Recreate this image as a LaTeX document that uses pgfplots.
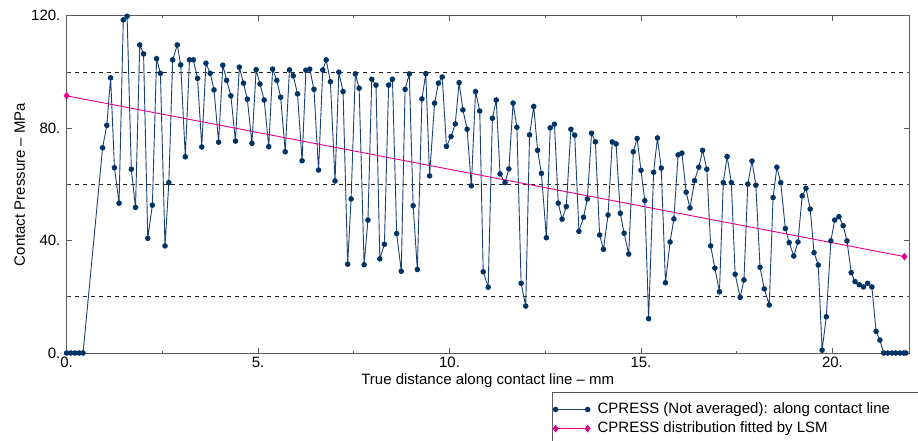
\documentclass[border=0pt]{standalone}
\usepackage{pgfplots}
\pgfplotsset{compat=1.18}
\usepackage{fontspec}
\setmainfont{Liberation Sans}
\definecolor{navy}{RGB}{0,51,102}
\definecolor{navyline}{RGB}{25,65,115}
\definecolor{lsm}{RGB}{228,0,140}
\definecolor{frame}{RGB}{90,90,90}
\begin{document}
\fontsize{15bp}{18bp}\selectfont
\begin{tikzpicture}[font=\fontsize{15bp}{18bp}\selectfont]
\begin{axis}[
  scale only axis,
  width=842.4bp, height=337.3bp,
  xmin=0, xmax=22, ymin=0, ymax=120,
  clip=false,
  axis line style={frame, line width=0.9bp},
  every tick/.style={frame, line width=0.7bp},
  tick align=inside,
  major tick length=5bp, minor tick length=2.5bp,
  xtick={0,5,10,15,20}, xticklabels={0.,5.,10.,15.,20.},
  minor xtick={2.5,7.5,12.5,17.5},
  ytick={0,40,80,120}, yticklabels={0.,40.,80.,120.},
  minor ytick={20,60,100},
  yminorgrids=true,
  minor grid style={black!85, dashed, dash pattern=on 4bp off 4bp, line width=0.7bp},
  tick label style={font=\fontsize{15bp}{18bp}\selectfont},
  label style={font=\fontsize{15bp}{18bp}\selectfont},
  xticklabel style={yshift=1.5bp},
  yticklabel style={xshift=-1bp},
  xlabel={True distance along contact line -- mm},
  ylabel={Contact Pressure -- MPa},
  xlabel style={yshift=4bp},
  ylabel style={yshift=-4bp},
  legend style={at={(0.576,-0.1156)}, anchor=north west, draw=frame, line width=0.9bp,
    font=\fontsize{15bp}{18bp}\selectfont, inner xsep=1bp, inner ysep=9bp,
    nodes={inner sep=1.5bp}, row sep=3bp, legend cell align=left},
  legend image code/.code={\draw[#1] plot coordinates {(0bp,0bp) (32bp,0bp)}; \path (40bp,0bp);},
]
\addplot[navyline, line width=0.9bp, mark=*, mark size=2.3bp, mark options={fill=navy, draw=navy}] coordinates {
(0,0) (0.11,0) (0.22,0) (0.33,0) (0.43,0)
(0.94,73.0) (1.05,81.0) (1.15,97.9) (1.25,65.9) (1.37,53.3) (1.48,118.5) (1.58,119.8) (1.69,65.4) (1.80,51.8) (1.91,109.6) (2.01,106.4) (2.12,40.8) (2.24,52.6) (2.35,104.7) (2.45,99.5) (2.57,38.1) (2.67,60.6) (2.77,104.3) (2.89,109.6) (2.98,102.5) (3.10,69.8) (3.21,104.3) (3.31,104.3) (3.42,97.7) (3.53,73.3) (3.64,103.1) (3.75,99.5) (3.85,93.6) (3.97,75.0) (4.08,102.4) (4.18,97.0) (4.29,91.5) (4.41,75.4) (4.51,101.7) (4.62,96.0) (4.72,90.3) (4.84,74.6) (4.95,100.8) (5.05,95.7) (5.16,90.0) (5.28,73.4) (5.38,101.0) (5.49,97.0) (5.59,91.0) (5.71,71.6) (5.82,100.7) (5.92,98.6) (6.03,92.2) (6.15,68.4) (6.25,100.6) (6.35,101.0) (6.46,93.8) (6.58,65.1) (6.69,100.7) (6.78,104.3) (6.89,96.5) (7.01,61.2) (7.11,99.9) (7.22,93.0) (7.34,31.6) (7.43,54.8) (7.54,99.3) (7.64,94.2) (7.77,31.4) (7.87,47.3) (7.97,97.4) (8.08,95.3) (8.18,33.5) (8.30,38.7) (8.41,95.3) (8.51,97.4) (8.62,42.5) (8.74,29.1) (8.84,93.8) (8.95,99.3) (9.05,52.4) (9.16,29.7) (9.28,90.4) (9.38,99.4) (9.48,63.0) (9.61,88.9) (9.71,96.0) (9.81,98.2) (9.92,73.5) (10.04,77.0) (10.15,81.5) (10.25,96.2) (10.35,86.5) (10.46,79.6) (10.57,59.5) (10.68,93.0) (10.79,86.1) (10.88,28.9) (11.01,23.4) (11.12,83.5) (11.22,90.0) (11.32,63.7) (11.45,60.6) (11.55,65.5) (11.66,88.9) (11.76,80.3) (11.87,24.8) (11.99,16.7) (12.09,77.6) (12.20,87.7) (12.30,72.1) (12.40,63.9) (12.53,41.0) (12.63,80.1) (12.74,81.4) (12.84,53.3) (12.94,47.6) (13.05,52.1) (13.17,79.6) (13.27,77.5) (13.38,43.3) (13.50,48.3) (13.60,54.8) (13.71,78.2) (13.81,75.1) (13.92,42.0) (14.02,36.9) (14.14,49.1) (14.25,75.1) (14.35,74.4) (14.46,49.7) (14.56,42.6) (14.68,35.2) (14.80,71.6) (14.90,76.3) (15.00,65.0) (15.10,54.2) (15.20,12.2) (15.33,64.3) (15.43,76.5) (15.53,65.8) (15.64,25.0) (15.76,39.5) (15.86,47.7) (15.97,70.5) (16.07,71.1) (16.18,57.2) (16.28,51.6) (16.40,61.3) (16.51,66.1) (16.61,72.1) (16.72,65.4) (16.82,38.1) (16.93,30.2) (17.05,21.8) (17.15,60.6) (17.25,69.9) (17.36,60.6) (17.46,28.0) (17.59,19.8) (17.69,26.0) (17.79,60.1) (17.90,68.3) (18.00,59.7) (18.11,30.5) (18.22,22.8) (18.35,17.1) (18.45,55.3) (18.55,66.1) (18.65,60.6) (18.77,44.3) (18.87,39.3) (18.99,34.5) (19.10,39.5) (19.21,55.9) (19.31,58.6) (19.42,51.2) (19.52,35.7) (19.63,31.3) (19.73,1.0) (19.84,12.9) (19.96,39.9) (20.06,47.3) (20.17,48.5) (20.28,45.3) (20.38,39.9) (20.49,28.6) (20.59,25.4) (20.70,24.3) (20.81,23.5) (20.92,24.8) (21.03,23.5) (21.14,7.7) (21.24,4.6) (21.34,0) (21.44,0) (21.55,0) (21.65,0) (21.76,0) (21.86,0) (21.92,0)
};
\addlegendentry{\makebox[330bp][l]{CPRESS (Not averaged): along contact line}}
\addplot[lsm, line width=0.9bp, mark=diamond*, mark size=3.2bp, mark options={fill=lsm, draw=lsm}] coordinates {(0,91.5) (21.88,34.3)};
\addlegendentry{CPRESS distribution fitted by LSM}
\end{axis}
\pgfresetboundingbox
\path ([shift={(-66.6bp,-88bp)}]current axis.south west) rectangle ([shift={(9bp,15.7bp)}]current axis.north east);
\end{tikzpicture}
\end{document}
